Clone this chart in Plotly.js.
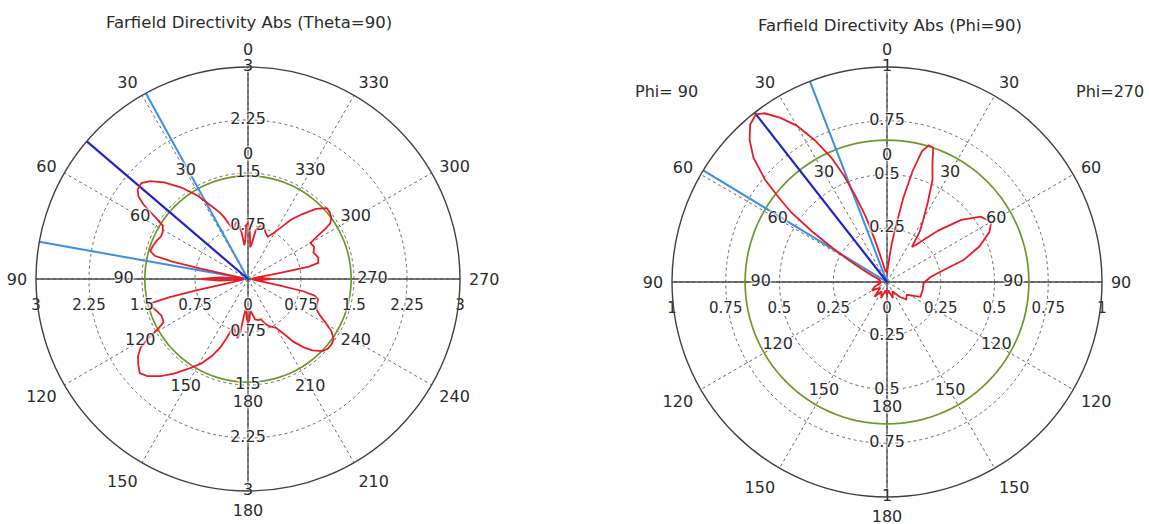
<!DOCTYPE html>
<html><head><meta charset="utf-8">
<script src="https://cdn.plot.ly/plotly-3.0.1.min.js"></script>
<style>html,body{margin:0;padding:0;background:#fff}#chart{width:1149px;height:524px}</style>
</head><body><div id="chart"></div>
<script>
// ---------------- data ----------------
const leftTitle = 'Farfield Directivity Abs (Theta=90)';
const rightTitle = 'Farfield Directivity Abs (Phi=90)';
const rightSideLabels = ['Phi= 90', 'Phi=270'];

// Theta=90 cut: phi (deg) vs directivity (abs)
const leftPhi = [0,2,4,6,8,11,13,15,17,19,21,23,26,31,36,41,45,48,51,53,54.5,55.5,56.5,58,61,64,67,70,74,76,77,77.5,78,80,84,87,90,93,96,100,102,102.5,103,104,106.5,110,113,117,119,120.5,122.5,125,128,131,134,138,142,146,151,155,158,160,162,164,167,170,172,174,176,178,180,182,184,187,190,194,198,201,204,207,210,213,216,219,222,226,229,232,235,238,241,243,246,250,254,256,257.5,258.5,260,264,267,270,273,276,280,281,281.5,283,287,292,296,300,302,303,304,306,309,312,316,320,324,328,331,335,339,343,347,351,354,356,358,360];
const leftDir = [0.80,0.76,0.55,0.48,0.68,0.83,0.80,0.73,0.74,0.82,0.93,1.02,1.13,1.37,1.60,1.81,1.96,2.03,2.01,1.94,1.82,1.68,1.55,1.42,1.38,1.37,1.40,1.42,1.44,1.36,1.10,0.70,0.35,0.10,0.06,0.40,0.67,0.40,0.06,0.10,0.35,0.75,1.15,1.40,1.41,1.36,1.33,1.34,1.45,1.63,1.80,1.90,1.97,2.03,1.98,1.85,1.70,1.54,1.37,1.20,1.04,0.90,0.76,0.71,0.80,0.85,0.72,0.50,0.42,0.55,0.62,0.58,0.45,0.50,0.58,0.60,0.60,0.68,0.73,0.76,0.80,0.92,1.10,1.24,1.36,1.47,1.50,1.50,1.48,1.39,1.24,1.15,1.06,1.04,1.03,0.97,0.80,0.45,0.12,0.06,0.22,0.33,0.22,0.06,0.12,0.50,0.88,1.02,1.04,1.00,1.04,1.02,1.18,1.31,1.40,1.46,1.49,1.50,1.38,1.20,1.04,0.84,0.74,0.66,0.70,0.77,0.77,0.70,0.50,0.45,0.70,0.80];

// Phi=90 cut: plotted angle (deg, left side = Phi 90, right side = Phi 270) vs directivity
const rightTheta = [0,4,8,11,14,16,18,20,22,24,27,30,33,36,38,41,44,47,50,52,54,56,58,60,63,67,72,80,90,100,110,120,130,140,150,160,170,180,190,200,210,220,228,237,246,258,268,276,282,286,291,296,300,305,310,315,319,322,324.5,327,330,333,336,339,341,343,345,347,349,351,353,356,360];
const rightDir = [0.04,0.05,0.05,0.07,0.12,0.20,0.32,0.42,0.53,0.63,0.74,0.84,0.91,0.97,0.99,0.97,0.92,0.85,0.74,0.64,0.55,0.42,0.30,0.21,0.13,0.07,0.04,0.03,0.05,0.03,0.06,0.08,0.04,0.09,0.05,0.08,0.04,0.06,0.04,0.08,0.05,0.09,0.12,0.11,0.17,0.17,0.17,0.20,0.27,0.37,0.46,0.53,0.56,0.53,0.45,0.34,0.26,0.22,0.20,0.28,0.34,0.42,0.52,0.59,0.66,0.665,0.63,0.53,0.40,0.26,0.18,0.08,0.04];

const leftMainLobe = 49.5;
const leftBeamEdges = [28.8, 79.9];
const rightMainLobe = 38;
const rightBeamEdges = [21, 58.7];
const leftGreenLevel = 1.46;
const rightGreenLevel = 0.66;

const leftRMax = 3;
const rightRMax = 1;
const leftRadialTicks = [0.75, 1.5, 2.25, 3];
const leftRadialLabels = ['0.75', '1.5', '2.25', '3'];
const rightRadialTicks = [0.25, 0.5, 0.75, 1];
const rightRadialLabels = ['0.25', '0.5', '0.75', '1'];
const angleTicks = [0, 30, 60, 90, 120, 150, 180, 210, 240, 270, 300, 330];
const leftAngleLabels = ['0','30','60','90','120','150','180','210','240','270','300','330'];
const rightAngleLabels = ['0','30','60','90','120','150','180','150','120','90','60','30'];

// ---------------- styling ----------------
const FONT = 'DejaVu Sans, Verdana, sans-serif';
const TXT = '#2b2b2b';
const GRID = '#6a6a6a';
const HALO = '0 0 2px #fff, 0 0 2px #fff, 0 0 3px #fff, 0 0 3px #fff';
const innerLabelFrac = 0.587;

function closeLoop(a) { return a.concat([a[0]]); }
function circleAngles() { const out = []; for (let a = 0; a <= 360; a += 3) out.push(a); return out; }

function buildTraces(sub, rMax, phi, dir, main, edges, green, ticks, tickLabels, angLabels) {
  const tr = [];
  const base = {type: 'scatterpolar', subplot: sub, hoverinfo: 'skip', showlegend: false};
  // solid axes through the centre
  tr.push(Object.assign({}, base, {mode: 'lines', r: [rMax, 0, rMax], theta: [90, 90, 270], line: {color: '#4a4a4a', width: 1.3}}));
  tr.push(Object.assign({}, base, {mode: 'lines', r: [rMax, 0, rMax], theta: [0, 0, 180], line: {color: '#4a4a4a', width: 1.3}}));
  // green level circle
  const ca = circleAngles();
  tr.push(Object.assign({}, base, {mode: 'lines', r: ca.map(() => green), theta: ca, line: {color: '#719629', width: 1.7}}));
  // beam-width lines
  edges.forEach(e => tr.push(Object.assign({}, base, {mode: 'lines', r: [0, rMax], theta: [e, e], line: {color: '#3b8fe4', width: 2}})));
  tr.push(Object.assign({}, base, {mode: 'lines', r: [0, rMax], theta: [main, main], line: {color: '#2323c8', width: 2.2}}));
  // farfield curve
  tr.push(Object.assign({}, base, {mode: 'lines', r: closeLoop(dir), theta: closeLoop(phi), line: {color: '#e81c24', width: 1.8}}));
  const tf = {family: FONT, size: 16, color: TXT, shadow: HALO};
  // inner angle labels
  tr.push(Object.assign({}, base, {mode: 'text', r: angleTicks.map(() => rMax * innerLabelFrac), theta: angleTicks, text: angLabels, textposition: 'middle center', textfont: tf}));
  // vertical radial labels
  tr.push(Object.assign({}, base, {mode: 'text', r: ticks.concat(ticks), theta: ticks.map(() => 0).concat(ticks.map(() => 180)), text: tickLabels.concat(tickLabels), textposition: 'middle center', textfont: tf}));
  // horizontal radial labels (below axis)
  tr.push(Object.assign({}, base, {mode: 'text', r: ticks.concat([0]).concat(ticks), theta: ticks.map(() => 90).concat([0]).concat(ticks.map(() => 270)), text: tickLabels.concat(['0']).concat(tickLabels).map(s => '<br>' + s), textposition: 'bottom center', textfont: Object.assign({}, tf, {size: 15})}));
  return tr;
}

function polarLayout(dx, dy, rMax, ticks, angLabels) {
  return {
    domain: {x: dx, y: dy},
    bgcolor: 'rgba(0,0,0,0)',
    radialaxis: {range: [0, rMax], tickvals: ticks, showticklabels: false, ticks: '', showline: false,
      gridcolor: GRID, griddash: '3px,3px', gridwidth: 1},
    angularaxis: {rotation: 90, direction: 'counterclockwise', tickmode: 'array', tickvals: angleTicks, ticktext: angLabels,
      ticks: 'outside', ticklen: 5, tickcolor: 'rgba(0,0,0,0)', showline: true, linecolor: '#404040', linewidth: 1.4,
      gridcolor: GRID, griddash: '3px,3px', gridwidth: 1, tickfont: {family: FONT, size: 16, color: TXT}}
  };
}

const W = 1149, H = 524;
const traces = buildTraces('polar', leftRMax, leftPhi, leftDir, leftMainLobe, leftBeamEdges, leftGreenLevel, leftRadialTicks, leftRadialLabels, leftAngleLabels)
  .concat(buildTraces('polar2', rightRMax, rightTheta, rightDir, rightMainLobe, rightBeamEdges, rightGreenLevel, rightRadialTicks, rightRadialLabels, rightAngleLabels));

const titleFont = {family: FONT, size: 16.5, color: TXT};
const layout = {
  width: W, height: H,
  margin: {l: 0, r: 0, t: 0, b: 0},
  paper_bgcolor: '#fff', plot_bgcolor: '#fff',
  showlegend: false,
  polar: polarLayout([36 / W, 460 / W], [1 - 491 / H, 1 - 67 / H], leftRMax, leftRadialTicks, leftAngleLabels),
  polar2: polarLayout([672 / W, 1102 / W], [1 - 497 / H, 1 - 67 / H], rightRMax, rightRadialTicks, rightAngleLabels),
  annotations: [
    {text: leftTitle, xref: 'paper', yref: 'paper', x: 249 / W, y: 1 - 23 / H, xanchor: 'center', yanchor: 'middle', showarrow: false, font: titleFont},
    {text: rightTitle, xref: 'paper', yref: 'paper', x: 890 / W, y: 1 - 25 / H, xanchor: 'center', yanchor: 'middle', showarrow: false, font: titleFont},
    {text: rightSideLabels[0], xref: 'paper', yref: 'paper', x: 666 / W, y: 1 - 92 / H, xanchor: 'center', yanchor: 'middle', showarrow: false, font: {family: FONT, size: 16, color: TXT}},
    {text: rightSideLabels[1], xref: 'paper', yref: 'paper', x: 1110 / W, y: 1 - 92 / H, xanchor: 'center', yanchor: 'middle', showarrow: false, font: {family: FONT, size: 16, color: TXT}}
  ]
};

Plotly.newPlot('chart', traces, layout, {displayModeBar: false, staticPlot: true});
</script>
</body></html>
